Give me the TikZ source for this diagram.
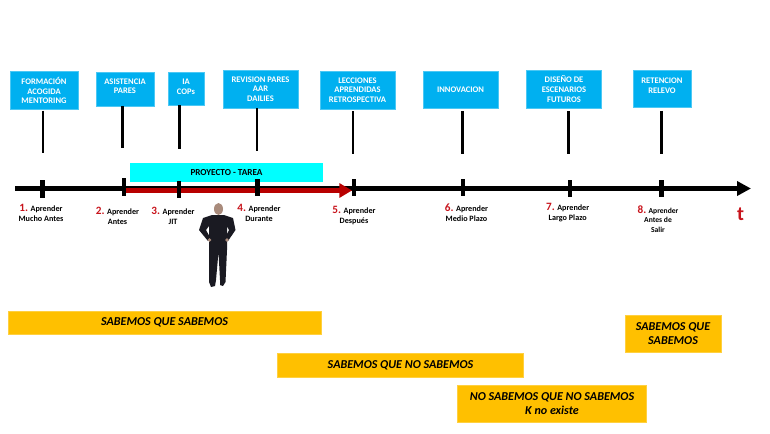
\documentclass[tikz,border=0pt]{standalone}
\usepackage{fontspec}
\setmainfont{Carlito}
\usepackage{xcolor}
\usetikzlibrary{arrows.meta, positioning, calc}
\definecolor{boxblue}{HTML}{00B0F0}
\definecolor{barcyan}{HTML}{00FFFF}
\definecolor{baryellow}{HTML}{FFC000}
\definecolor{numred}{HTML}{C8141C}
\definecolor{arrowred}{HTML}{B80000}
\definecolor{suit}{HTML}{1A1A22}
\definecolor{skin}{HTML}{A98B7C}
\newcommand{\num}[1]{{\fontsize{8.4}{9}\selectfont\color{numred}#1}}
\tikzset{
    topbox/.style={
        rectangle,
        fill=boxblue,
        draw=boxblue!70!white,
        line width=0.3pt,
        text=white,
        inner sep=0pt,
        align=center,
        font=\bfseries\fontsize{6.4}{7.2}\selectfont,
    },
    tick/.style={
        rectangle,
        fill=black,
        inner sep=0pt,
        minimum width=3.5pt,
        minimum height=12.8pt,
    },
    stem/.style={
        black,
        line width=1.9pt,
    },
    when/.style={
        align=center,
        inner sep=0pt,
        font=\bfseries\fontsize{6.1}{7.5}\selectfont,
    },
    knowbar/.style={
        rectangle,
        fill=baryellow,
        draw=baryellow!75!white,
        line width=0.3pt,
        inner sep=0pt,
        align=center,
        font=\bfseries\itshape\fontsize{9.05}{11}\selectfont,
    },
}

\begin{document}
\begin{tikzpicture}[x=0.75pt,y=-0.75pt]
      \useasboundingbox (0,0) rectangle (770,433);

      % top boxes
      \node [topbox, minimum width=51pt, minimum height=28.5pt] (formacion) at (44,90.5) {FORMACIÓN\\ACOGIDA\\MENTORING};
      \node [topbox, minimum width=43.5pt, minimum height=25.5pt] (asistencia) at (125,89) {ASISTENCIA\\PARES\\[-2.8pt]\mbox{}};
      \node [topbox, minimum width=27pt, minimum height=25pt] (ia) at (186,88.5) {IA\\COPs\\[-4.5pt]\mbox{}};
      \node [topbox, minimum width=56.5pt, minimum height=28.5pt] (revision) at (260.5,89) {REVISION PARES\\AAR\\DAILIES};
      \node [topbox, minimum width=56.5pt, minimum height=28.5pt] (lecciones) at (357.5,90) {LECCIONES\\APRENDIDAS\\RETROSPECTIVA};
      \node [topbox, minimum width=56.5pt, minimum height=28pt] (innovacion) at (460.5,89.5) {INNOVACION};
      \node [topbox, minimum width=56.5pt, minimum height=28.5pt] (disenio) at (564,89) {DISEÑO DE\\ESCENARIOS\\FUTUROS};
      \node [topbox, minimum width=43.5pt, minimum height=28pt] (retencion) at (662,89) {RETENCION\\RELEVO\\[-2pt]\mbox{}};

      % free ends of the stems
      \coordinate (end1) at (43,153);
      \coordinate (end2) at (122.5,148);
      \coordinate (end3) at (179.5,149);
      \coordinate (end4) at (257,151);
      \coordinate (end5) at (353,154);
      \coordinate (end6) at (462.7,154);
      \coordinate (end7) at (568.7,154);
      \coordinate (end8) at (661.7,154);

      \draw [stem] ($(formacion.south -| end1)+(0,1)$) -- (end1);
      \draw [stem] (asistencia.south -| end2) -- (end2);
      \draw [stem] (ia.south -| end3) -- (end3);
      \draw [stem] (revision.south -| end4) -- (end4);
      \draw [stem] ($(lecciones.south -| end5)+(0,2)$) -- (end5);
      \draw [stem] ($(innovacion.south -| end6)+(0,3)$) -- (end6);
      \draw [stem] ($(disenio.south -| end7)+(0,3)$) -- (end7);
      \draw [stem] ($(retencion.south -| end8)+(0,3)$) -- (end8);

      % time line
      \node [rectangle, fill=barcyan, inner sep=0pt, minimum width=144.75pt, minimum height=14.25pt,
             font=\bfseries\fontsize{6.9}{8}\selectfont] (proyecto) at (226.5,172.5) {PROYECTO - TAREA};
      \coordinate (start) at (15,188.5);
      \coordinate (stop) at (751,188.5);
      \coordinate (redstart) at (124,190.5);
      \coordinate (redstop) at (352,190.5);
      \draw [-{Triangle[length=10.5pt,width=10.5pt]}, line width=3.1pt, black] (start) -- (stop);
      \draw [-{Triangle[length=9.5pt,width=10.5pt]}, line width=4.4pt, arrowred] (redstart) -- (redstop);

      \node [tick] (tick1) at (42.5,189) {};
      \node [tick] (tick2) at (124,187) {};
      \node [tick] (tick3) at (179,189.5) {};
      \node [tick] (tick4) at (257.5,187.5) {};
      \node [tick] (tick5) at (354,187.5) {};
      \node [tick] (tick6) at (463,187.5) {};
      \node [tick] (tick7) at (570,188.5) {};
      \node [tick] (tick8) at (661.5,188.5) {};

      % labels under the time line
      \node [when] (when1) at (41,213) {\num{1.} Aprender\\Mucho Antes};
      \node [when] (when2) at (117.5,215.7) {\num{2.} Aprender\\Antes};
      \node [when] (when3) at (173,215.7) {\num{3.} Aprender\\JIT};
      \node [when] (when4) at (259,213) {\num{4.} Aprender\\Durante};
      \node [when] (when5) at (354,215.7) {\num{5.} Aprender\\Después};
      \node [when] (when6) at (466.5,212.7) {\num{6.} Aprender\\Medio Plazo};
      \node [when] (when7) at (567.7,212.7) {\num{7.} Aprender\\Largo Plazo};
      \node [when, font=\bfseries\fontsize{5.7}{7.2}\selectfont] (when8) at (658,219) {\num{8.} Aprender\\Antes de\\Salir};
      \node [inner sep=0pt, text=numred, font=\bfseries\fontsize{15}{15}\selectfont] (tlabel) at (740.7,214) {t};

      % the man
      \fill [suit] (203,218) -- (212,215) -- (224,215) -- (233,218) -- (235.5,230) -- (228,241) -- (225,239) -- (229,230) -- (227,226)
          -- (227,250) -- (225.5,282) -- (223,286) -- (220,285) -- (220,280) -- (218.5,252) -- (216,280) -- (215,286) -- (211,287) -- (209,282) -- (209,250)
          -- (209,226) -- (206,230) -- (211,239) -- (208,241) -- (199,230) -- cycle;
      \fill [skin] (218.5,209) ellipse [x radius=4.5, y radius=6];
      \fill [skin] (209.5,240) circle [radius=1.8];
      \fill [skin] (227,240) circle [radius=1.8];

      % what we know
      \node [knowbar, minimum width=234.75pt, minimum height=17pt] (known) at (164.5,322.5) {SABEMOS QUE SABEMOS};
      \node [knowbar, minimum width=184.25pt, minimum height=17.75pt] (knownunknown) at (400.5,365) {SABEMOS QUE NO SABEMOS};
      \node [knowbar, minimum width=142pt, minimum height=27.75pt] (unknown) at (552,403.5) {NO SABEMOS QUE NO SABEMOS\\K no existe};
      \node [knowbar, minimum width=72.25pt, minimum height=27.75pt] (knownagain) at (673,333.5) {SABEMOS QUE\\SABEMOS};
\end{tikzpicture}
\end{document}
